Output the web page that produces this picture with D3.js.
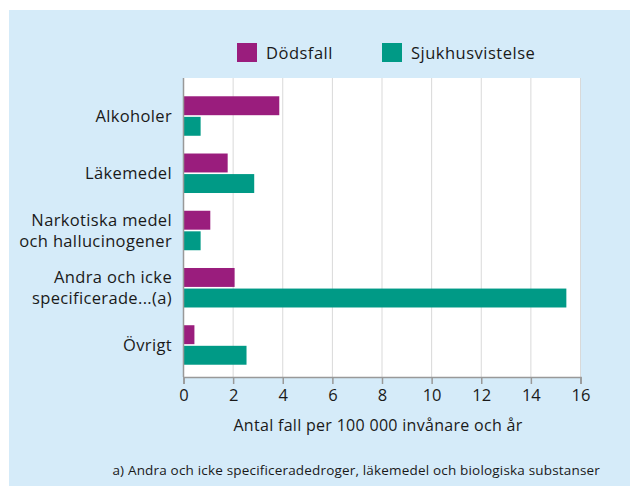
<!DOCTYPE html>
<html>
<head>
<meta charset="utf-8">
<script src="https://cdn.jsdelivr.net/npm/d3@7"></script>
<style>
  body { margin: 0; background: #fff; }
  text { font-family: "Open Sans", "DejaVu Sans", sans-serif; fill: #1a1a1a; }
</style>
</head>
<body>
<div id="container"></div>
<script>
let w = 630;
let h = 486;

// data
let categories = [
  ["Alkoholer"],
  ["Läkemedel"],
  ["Narkotiska medel", "och hallucinogener"],
  ["Andra och icke", "specificerade...(a)"],
  ["Övrigt"]
];
let series = ["Dödsfall", "Sjukhusvistelse"];
let dodsfall = [3.86, 1.78, 1.08, 2.06, 0.44];
let sjukhus = [0.69, 2.85, 0.69, 15.43, 2.54];
let xTicks = [0, 2, 4, 6, 8, 10, 12, 14, 16];
let colors = ["#9a1d7d", "#009a86"];

let svg = d3.select("#container").append("svg")
  .attr("width", w)
  .attr("height", h);

svg.append("rect")
  .attr("x", 9).attr("y", 10)
  .attr("width", w - 9).attr("height", h - 10)
  .attr("fill", "#d5ebf9");

let pLeft = 183.5, pRight = 580.5, pTop = 78, pBottom = 377;

svg.append("rect")
  .attr("x", pLeft).attr("y", pTop)
  .attr("width", pRight - pLeft).attr("height", pBottom - pTop)
  .attr("fill", "white");

let x = d3.scaleLinear().domain([0, 16]).range([pLeft, pRight]);
let y = d3.scaleBand().domain(d3.range(categories.length)).range([87.4, 373.6]).paddingInner(0.31).paddingOuter(0.155);
let sub = d3.scaleBand().domain([0, 1]).range([0, y.bandwidth()]).paddingInner(0.08);

// grid
svg.selectAll(".grid").data(xTicks.slice(1)).enter()
  .append("line")
  .attr("class", "grid")
  .attr("x1", d => x(d)).attr("x2", d => x(d))
  .attr("y1", pTop).attr("y2", pBottom)
  .attr("stroke", "#d9d9d9")
  .attr("stroke-width", 1);

// bars
let groups = svg.selectAll(".grp").data(categories).enter()
  .append("g")
  .attr("class", "grp")
  .attr("transform", (d, i) => "translate(0," + y(i) + ")");

groups.append("rect")
  .attr("x", x(0))
  .attr("y", sub(0))
  .attr("width", (d, i) => x(dodsfall[i]) - x(0))
  .attr("height", sub.bandwidth())
  .attr("fill", colors[0]);

groups.append("rect")
  .attr("x", x(0))
  .attr("y", sub(1))
  .attr("width", (d, i) => x(sjukhus[i]) - x(0))
  .attr("height", sub.bandwidth())
  .attr("fill", colors[1]);

// category labels
groups.append("text")
  .attr("text-anchor", "end")
  .attr("font-size", 16.5)
  .attr("letter-spacing", 0.35)
  .attr("x", 172)
  .attr("y", y.bandwidth() / 2)
  .selectAll("tspan").data(d => d).enter()
  .append("tspan")
  .attr("x", 172)
  .attr("dy", (d, i, n) => i == 0 ? (n.length == 1 ? "0.35em" : "-0.3em") : "1.3em")
  .text(d => d);

// x axis
let xAxis = d3.axisBottom(x).tickValues(xTicks).tickSize(7).tickPadding(5);
let ax = svg.append("g")
  .attr("transform", "translate(0," + pBottom + ")")
  .call(xAxis);
ax.select(".domain").attr("stroke", "#999").attr("stroke-width", 1.5);
ax.selectAll(".tick line").attr("stroke", "#999").attr("stroke-width", 1.5);
ax.selectAll(".tick text")
  .attr("font-size", 16.5)
  .attr("font-family", "'Open Sans', sans-serif")
  .attr("fill", "#1a1a1a");

svg.append("line")
  .attr("x1", pLeft).attr("x2", pLeft)
  .attr("y1", pTop).attr("y2", pBottom)
  .attr("stroke", "#999").attr("stroke-width", 1.5);

svg.append("text")
  .attr("x", 378)
  .attr("y", 431)
  .attr("text-anchor", "middle")
  .attr("font-size", 16)
  .attr("letter-spacing", 0.3)
  .text("Antal fall per 100 000 invånare och år");

// legend
let legX = [237, 382];
series.forEach(function(s, i) {
  svg.append("rect")
    .attr("x", legX[i]).attr("y", 43)
    .attr("width", 20).attr("height", 19)
    .attr("fill", colors[i]);
  svg.append("text")
    .attr("x", legX[i] + 29).attr("y", 58.5)
    .attr("font-size", 16.5)
    .attr("letter-spacing", 0.5)
    .text(s);
});

// footnote
svg.append("text")
  .attr("x", 600).attr("y", 475)
  .attr("text-anchor", "end")
  .attr("font-size", 13.5)
  .attr("letter-spacing", 0.18)
  .text("a) Andra och icke specificeradedroger, läkemedel och biologiska substanser");
</script>
</body>
</html>
